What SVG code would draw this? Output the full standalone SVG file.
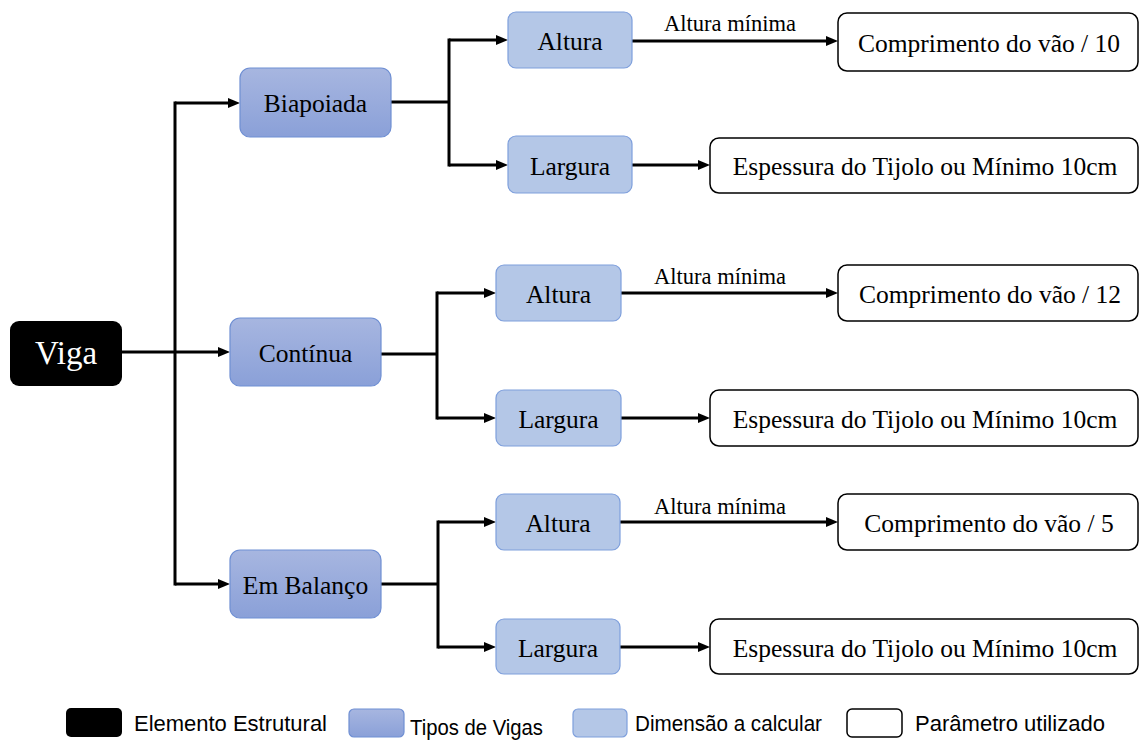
<svg xmlns="http://www.w3.org/2000/svg" width="1140" height="740" viewBox="0 0 1140 740">
  <style>
    .serif { font-family: "Liberation Serif", "Times New Roman", serif; fill: #000; }
    .lbl { font-size: 25.5px; text-anchor: middle; dominant-baseline: central; }
    .edge { font-size: 22.5px; text-anchor: middle; }
    .legend { font-family: "Liberation Sans", Arial, sans-serif; font-size: 22px; fill: #000; }
    .root { fill: #000; }
    .type { fill: url(#typeGrad); stroke: #6f8fd3; stroke-width: 1.2; }
    .dim { fill: #b4c7e7; stroke: #7e9fdc; stroke-width: 1.2; }
    .param { fill: #fff; stroke: #000; stroke-width: 1.5; }
    .wire { fill: none; stroke: #000; stroke-width: 3; }
  </style>
  <defs>
    <linearGradient id="typeGrad" x1="0" y1="0" x2="0" y2="1">
      <stop offset="0" stop-color="#a7b6e0"/>
      <stop offset="1" stop-color="#8aa0d8"/>
    </linearGradient>
    <marker id="arrow" viewBox="0 0 12 10" refX="2" refY="5" markerWidth="12" markerHeight="10" markerUnits="userSpaceOnUse" orient="auto">
      <path d="M0,0 L12,5 L0,10 z" fill="#000"/>
    </marker>
  </defs>

  <!-- connectors -->
  <g id="connectors" class="wire">
    <path d="M175,101.5 V585.5"/>
    <path d="M122,352 H220" marker-end="url(#arrow)"/>
    <path d="M175,103 H230" marker-end="url(#arrow)"/>
    <path d="M175,584 H220" marker-end="url(#arrow)"/>

    <path d="M391,102 H449"/>
    <path d="M449,38.5 V166.5"/>
    <path d="M449,40 H498" marker-end="url(#arrow)"/>
    <path d="M449,165 H498" marker-end="url(#arrow)"/>
    <path d="M632,41 H828" marker-end="url(#arrow)"/>
    <path d="M632,165 H700" marker-end="url(#arrow)"/>

    <path d="M381,354 H437"/>
    <path d="M437,291.5 V419.5"/>
    <path d="M437,293 H486" marker-end="url(#arrow)"/>
    <path d="M437,418 H486" marker-end="url(#arrow)"/>
    <path d="M621,293 H828" marker-end="url(#arrow)"/>
    <path d="M621,418 H700" marker-end="url(#arrow)"/>

    <path d="M381,584 H438"/>
    <path d="M438,520.5 V648.5"/>
    <path d="M438,522 H486" marker-end="url(#arrow)"/>
    <path d="M438,647 H486" marker-end="url(#arrow)"/>
    <path d="M620,522 H828" marker-end="url(#arrow)"/>
    <path d="M620,647 H700" marker-end="url(#arrow)"/>
  </g>

  <!-- edge labels -->
  <g id="edge-labels" class="serif edge">
    <text x="730" y="31">Altura mínima</text>
    <text x="720" y="284">Altura mínima</text>
    <text x="720" y="514">Altura mínima</text>
  </g>

  <!-- root -->
  <g id="viga">
    <rect class="root" x="10" y="321" width="112" height="65" rx="9"/>
    <text class="serif lbl" x="66" y="353" style="fill:#fff;font-size:33px">Viga</text>
  </g>

  <!-- beam types -->
  <g id="biapoiada">
    <rect class="type" x="240" y="68" width="151" height="69" rx="10"/>
    <text class="serif lbl" x="315.5" y="103">Biapoiada</text>
  </g>
  <g id="continua">
    <rect class="type" x="230" y="318" width="151" height="68" rx="10"/>
    <text class="serif lbl" x="305.5" y="353">Contínua</text>
  </g>
  <g id="em-balanco">
    <rect class="type" x="230" y="550" width="151" height="68" rx="10"/>
    <text class="serif lbl" x="305.5" y="585">Em Balanço</text>
  </g>

  <!-- dimensions -->
  <g id="altura-1">
    <rect class="dim" x="508" y="12" width="124" height="56" rx="8"/>
    <text class="serif lbl" x="570" y="41">Altura</text>
  </g>
  <g id="largura-1">
    <rect class="dim" x="508" y="136" width="124" height="57" rx="8"/>
    <text class="serif lbl" x="570" y="166">Largura</text>
  </g>
  <g id="altura-2">
    <rect class="dim" x="496" y="265" width="125" height="56" rx="8"/>
    <text class="serif lbl" x="558.5" y="294">Altura</text>
  </g>
  <g id="largura-2">
    <rect class="dim" x="496" y="390" width="125" height="56" rx="8"/>
    <text class="serif lbl" x="558.5" y="419">Largura</text>
  </g>
  <g id="altura-3">
    <rect class="dim" x="496" y="494" width="124" height="56" rx="8"/>
    <text class="serif lbl" x="558" y="523">Altura</text>
  </g>
  <g id="largura-3">
    <rect class="dim" x="496" y="619" width="124" height="55" rx="8"/>
    <text class="serif lbl" x="558" y="648">Largura</text>
  </g>

  <!-- parameters -->
  <g id="param-altura-1">
    <rect class="param" x="838" y="13" width="300" height="58" rx="9"/>
    <text class="serif lbl" x="989" y="43">Comprimento do vão / 10</text>
  </g>
  <g id="param-largura-1">
    <rect class="param" x="710" y="138" width="428" height="55" rx="9"/>
    <text class="serif lbl" x="925" y="166">Espessura do Tijolo ou Mínimo 10cm</text>
  </g>
  <g id="param-altura-2">
    <rect class="param" x="838" y="265" width="300" height="56" rx="9"/>
    <text class="serif lbl" x="990" y="294">Comprimento do vão / 12</text>
  </g>
  <g id="param-largura-2">
    <rect class="param" x="710" y="390" width="428" height="56" rx="9"/>
    <text class="serif lbl" x="925" y="419">Espessura do Tijolo ou Mínimo 10cm</text>
  </g>
  <g id="param-altura-3">
    <rect class="param" x="838" y="494" width="300" height="56" rx="9"/>
    <text class="serif lbl" x="989" y="523">Comprimento do vão / 5</text>
  </g>
  <g id="param-largura-3">
    <rect class="param" x="710" y="619" width="428" height="55" rx="9"/>
    <text class="serif lbl" x="925" y="648">Espessura do Tijolo ou Mínimo 10cm</text>
  </g>

  <!-- legend -->
  <g id="legend">
    <rect class="root" x="66" y="708" width="56" height="29" rx="5"/>
    <text class="legend" x="134" y="731" textLength="193" lengthAdjust="spacingAndGlyphs">Elemento Estrutural</text>
    <rect class="type" x="349" y="709" width="55" height="28" rx="5"/>
    <text class="legend" x="410" y="735" textLength="133" lengthAdjust="spacingAndGlyphs">Tipos de Vigas</text>
    <rect class="dim" x="573" y="709" width="54" height="28" rx="5"/>
    <text class="legend" x="635" y="731" textLength="187" lengthAdjust="spacingAndGlyphs">Dimensão a calcular</text>
    <rect class="param" x="847" y="709" width="55" height="28" rx="5"/>
    <text class="legend" x="915" y="731" textLength="190" lengthAdjust="spacingAndGlyphs">Parâmetro utilizado</text>
  </g>
</svg>
